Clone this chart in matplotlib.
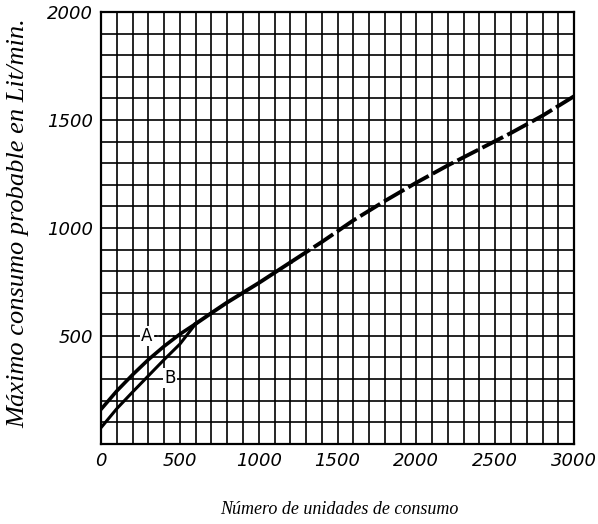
import numpy as np
import matplotlib.pyplot as plt

# Curve A (upper start) and curve B (lower start), merging near 600 units
curve_a_x = [0, 100, 200, 300, 400, 500, 600]
curve_a_y = [160, 245, 320, 390, 452, 508, 556]
curve_b_x = [0, 100, 200, 300, 400, 500, 600]
curve_b_y = [75, 163, 240, 315, 390, 462, 556]

# Common part of both curves
common_x = [600, 700, 800, 900, 1000, 1200, 1400, 1600, 1800, 2000, 2200, 2400, 2600, 2800, 3000]
common_y = [556, 606, 655, 700, 745, 840, 935, 1035, 1125, 1210, 1290, 1365, 1440, 1520, 1610]

x_ticks = [0, 500, 1000, 1500, 2000, 2500, 3000]
y_ticks = [500, 1000, 1500, 2000]

fig = plt.figure(figsize=(5.98, 5.24), dpi=100)
ax = fig.add_axes([0.169, 0.153, 0.791, 0.824])

ax.set_xlim(0, 3000)
ax.set_ylim(0, 2000)

# grid every 100 units in both directions
ax.set_xticks(np.arange(0, 3001, 100), minor=True)
ax.set_yticks(np.arange(0, 2001, 100), minor=True)
ax.grid(True, which='minor', color='black', linewidth=1.2)
ax.grid(True, which='major', color='black', linewidth=1.2)

ax.set_xticks(x_ticks)
ax.set_xticklabels([str(t) for t in x_ticks], fontstyle='italic', fontsize=13)
ax.set_yticks(y_ticks)
ax.set_yticklabels([str(t) for t in y_ticks], fontstyle='italic', fontsize=13)
ax.tick_params(which='both', length=0, pad=6)
for s in ax.spines.values():
    s.set_linewidth(1.6)
    s.set_color('black')

ax.plot(curve_a_x, curve_a_y, color='black', linewidth=2.6, solid_capstyle='round')
ax.plot(curve_b_x, curve_b_y, color='black', linewidth=2.2, solid_capstyle='round')
# solid near the start, scanned as broken further on
split = 5
ax.plot(common_x[:split + 1], common_y[:split + 1], color='black', linewidth=2.8)
ax.plot(common_x[split:], common_y[split:], color='black', linewidth=2.8,
        linestyle=(0, (6, 1.2)))

ax.text(290, 500, 'A', fontsize=12, ha='center', va='center',
        bbox=dict(facecolor='white', edgecolor='none', pad=1))
ax.plot([340, 500], [500, 500], color='black', linewidth=1.2, linestyle=':')
ax.text(437, 305, 'B', fontsize=12, ha='center', va='center',
        bbox=dict(facecolor='white', edgecolor='none', pad=1))

fig.text(0.568, 0.027, 'Número de unidades de consumo', ha='center', va='center',
         fontsize=13, fontstyle='italic', family='Liberation Serif')
fig.text(0.03, 0.575, 'Máximo consumo probable en Lit/min.', ha='center', va='center',
         rotation=90, fontsize=19, fontstyle='italic', family='Liberation Serif')

fig.savefig('out.png', dpi=100)
plt.close(fig)
